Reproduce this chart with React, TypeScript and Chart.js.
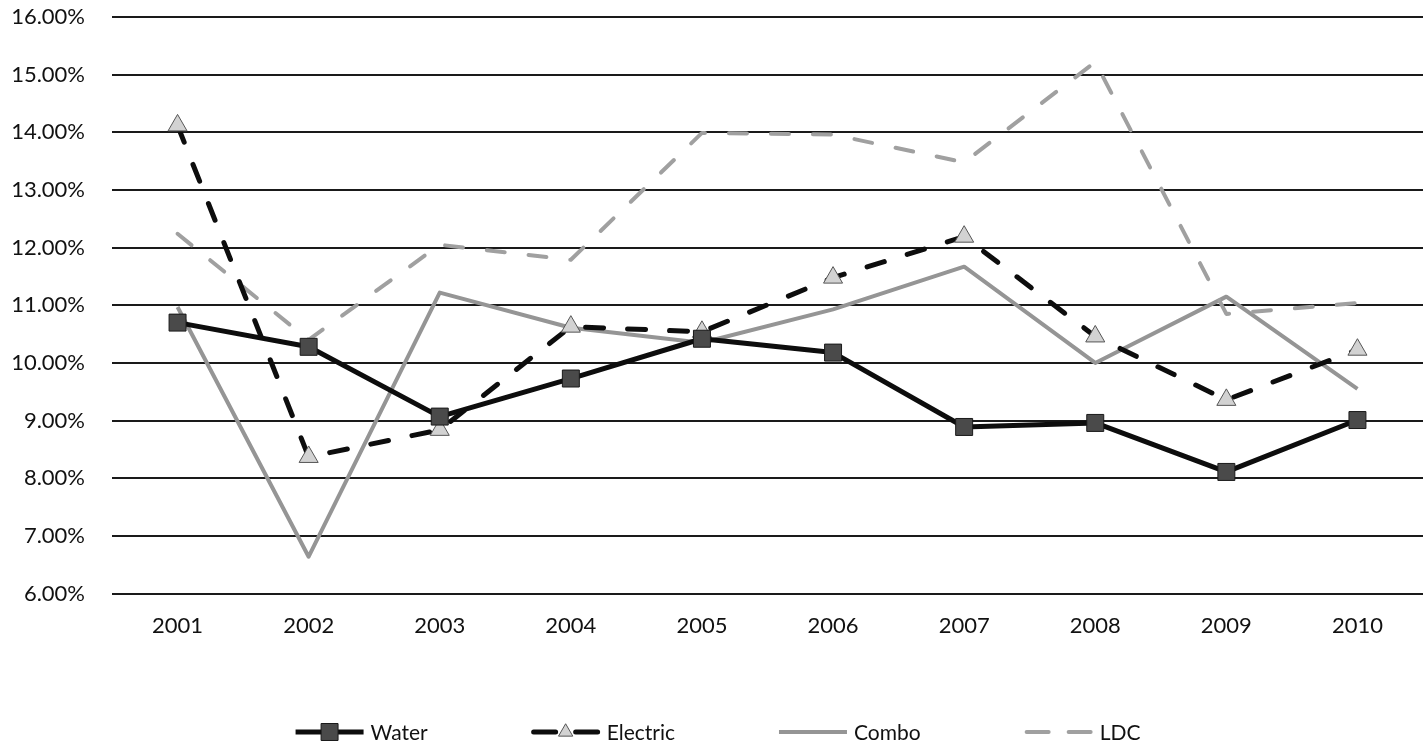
import React, { useEffect, useRef } from 'react';
import { Chart, registerables } from 'chart.js';

Chart.register(...registerables);

// Annual returns by utility type, in percent
const years = ['2001', '2002', '2003', '2004', '2005', '2006', '2007', '2008', '2009', '2010'];
const water = [10.7, 10.28, 9.07, 9.73, 10.42, 10.18, 8.89, 8.96, 8.11, 9.01];
const electric = [14.12, 8.37, 8.84, 10.63, 10.54, 11.48, 12.19, 10.46, 9.36, 10.23];
const combo = [10.97, 6.64, 11.22, 10.61, 10.35, 10.93, 11.67, 10.0, 11.15, 9.55];
const ldc = [12.24, 10.4, 12.05, 11.79, 13.99, 13.96, 13.48, 15.22, 10.85, 11.04];

const seriesNames = ['Water', 'Electric', 'Combo', 'LDC'];
const yMin = 6;
const yMax = 16;
const yStep = 1;

const FONT = 'Lato, "Noto Sans", sans-serif';

type Style = {
  color: string;
  width: number;
  dash: number[];
  point: false | 'rect' | 'triangle';
  pointFill: string;
  pointEdge: string;
  pointRadius: number;
};

const styles: Style[] = [
  { color: '#0d0d0d', width: 5, dash: [], point: 'rect', pointFill: '#4a4a4a', pointEdge: '#1a1a1a', pointRadius: 12 },
  { color: '#0d0d0d', width: 5, dash: [18, 24], point: 'triangle', pointFill: '#d2d2d2', pointEdge: '#555555', pointRadius: 11 },
  { color: '#959595', width: 4, dash: [], point: false, pointFill: '#959595', pointEdge: '#959595', pointRadius: 0 },
  { color: '#a0a0a0', width: 4, dash: [18, 24], point: false, pointFill: '#a0a0a0', pointEdge: '#a0a0a0', pointRadius: 0 },
];

function drawMarker(ctx: CanvasRenderingContext2D, s: Style, x: number, y: number) {
  if (!s.point) return;
  ctx.save();
  ctx.setLineDash([]);
  ctx.fillStyle = s.pointFill;
  ctx.strokeStyle = s.pointEdge;
  ctx.lineWidth = 1;
  ctx.beginPath();
  if (s.point === 'rect') {
    const half = (s.pointRadius * Math.SQRT2) / 2;
    ctx.rect(x - half, y - half, half * 2, half * 2);
  } else {
    const r = s.pointRadius * 0.75;
    ctx.moveTo(x, y - r);
    ctx.lineTo(x + r * Math.cos(Math.PI / 6), y + r / 2);
    ctx.lineTo(x - r * Math.cos(Math.PI / 6), y + r / 2);
    ctx.closePath();
  }
  ctx.fill();
  ctx.stroke();
  ctx.restore();
}

// Legend drawn as line samples with the series marker, centred under the plot
const lineLegend = {
  id: 'lineLegend',
  afterDraw(chart: any) {
    const ctx: CanvasRenderingContext2D = chart.ctx;
    const sample = 68;
    const textGap = 7;
    const itemGap = 104;
    ctx.save();
    ctx.font = `21px ${FONT}`;
    ctx.textBaseline = 'middle';
    ctx.textAlign = 'left';
    const widths = seriesNames.map((n) => sample + textGap + ctx.measureText(n).width);
    const total = widths.reduce((a, b) => a + b, 0) + itemGap * (widths.length - 1);
    let x = chart.width / 2 - total / 2;
    const y = chart.height - 18;
    seriesNames.forEach((name, i) => {
      const s = styles[i];
      ctx.save();
      ctx.strokeStyle = s.color;
      ctx.lineWidth = s.width;
      ctx.lineCap = s.dash.length ? 'round' : 'butt';
      ctx.setLineDash(s.dash.length ? [22, 20] : []);
      ctx.beginPath();
      ctx.moveTo(x + (s.dash.length ? 2 : 0), y);
      ctx.lineTo(x + sample - (s.dash.length ? 2 : 0), y);
      ctx.stroke();
      ctx.restore();
      drawMarker(ctx, s, x + sample / 2, y);
      ctx.fillStyle = '#111111';
      ctx.fillText(name, x + sample + textGap, y + 1);
      x += widths[i] + itemGap;
    });
    ctx.restore();
  },
};

export default function App() {
  const canvasRef = useRef<HTMLCanvasElement | null>(null);

  useEffect(() => {
    const canvas = canvasRef.current;
    if (!canvas) return;
    const seriesData = [water, electric, combo, ldc];
    const chart = new Chart(canvas, {
      type: 'line',
      data: {
        labels: years,
        datasets: seriesData.map((d, i) => {
          const s = styles[i];
          return {
            label: seriesNames[i],
            data: d,
            borderColor: s.color,
            borderWidth: s.width,
            borderDash: s.dash,
            borderCapStyle: s.dash.length ? 'round' : 'butt',
            borderJoinStyle: 'round',
            tension: 0,
            fill: false,
            pointStyle: s.point || 'circle',
            pointRadius: s.point ? s.pointRadius : 0,
            pointBackgroundColor: s.pointFill,
            pointBorderColor: s.pointEdge,
            pointBorderWidth: 1,
            order: i === 0 ? 0 : i === 1 ? 1 : 3 - i + 2,
          } as any;
        }),
      },
      options: {
        responsive: false,
        animation: false,
        events: [],
        layout: { padding: { top: 17, bottom: 100, left: 0, right: 0 } },
        plugins: {
          legend: { display: false },
          tooltip: { enabled: false },
          title: { display: false },
        },
        scales: {
          x: {
            type: 'category',
            offset: true,
            grid: { display: false },
            border: { display: false },
            ticks: {
              padding: 11,
              maxRotation: 0,
              color: '#111111',
              font: { family: FONT, size: 22 },
            },
          },
          y: {
            min: yMin,
            max: yMax,
            afterFit: (scale: any) => {
              scale.width = 112;
              scale.paddingTop = 0;
              scale.paddingBottom = 0;
            },
            grid: {
              color: '#1a1a1a',
              lineWidth: 2,
              drawTicks: false,
            },
            border: { display: false },
            ticks: {
              stepSize: yStep,
              padding: 27,
              color: '#111111',
              font: { family: FONT, size: 22 },
              callback: (v: any) => Number(v).toFixed(2) + '%',
            },
          },
        },
      },
      plugins: [lineLegend],
    });
    return () => chart.destroy();
  }, []);

  return (
    <div
      style={{
        position: 'absolute',
        left: 0,
        top: 0,
        width: 1424,
        height: 750,
        overflow: 'hidden',
        background: '#ffffff',
      }}
    >
      <canvas ref={canvasRef} width={1436} height={750} style={{ display: 'block' }} />
    </div>
  );
}
